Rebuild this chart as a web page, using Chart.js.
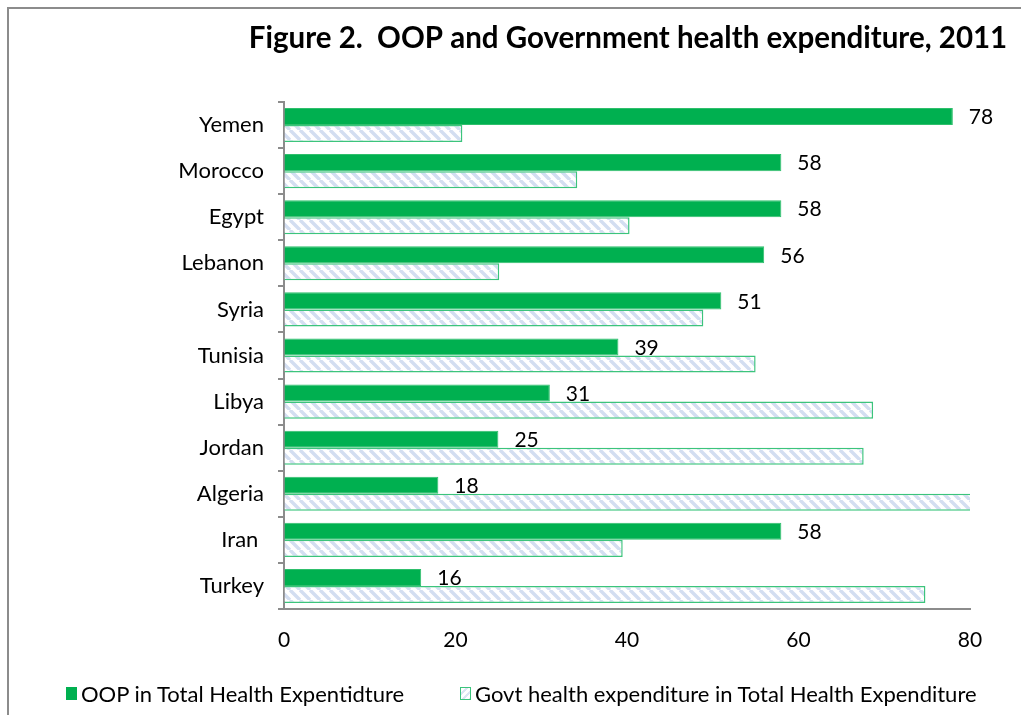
<!DOCTYPE html>
<html>
<head>
<meta charset="utf-8">
<script src="https://cdn.jsdelivr.net/npm/chart.js@4.4.1/dist/chart.umd.min.js"></script>
<style>
  html, body { margin: 0; padding: 0; background: #fff; overflow: hidden; }
  #frame { position: absolute; left: 7px; top: 7px; width: 1040px; height: 740px;
           border: 2px solid #8c8c8c; box-sizing: border-box; }
  #wrap { position: absolute; left: 0; top: 0; width: 1021px; height: 715px; }
  #legend { position: absolute; top: 680px; left: 0; width: 1021px; height: 26px;
            font-family: Lato, "Noto Sans", sans-serif; font-size: 22px; color: #000; }
  .item { position: absolute; top: 0; display: flex; align-items: center; height: 26px; white-space: nowrap; }
  .sw { display: inline-block; width: 11px; height: 13px; margin-right: 4px; box-sizing: border-box; }
  .sw.oop { background: #00b050; }
  .sw.govt { border: 1px solid #3cc47c;
             background: repeating-linear-gradient(135deg, #fff 0 3px, #dbe4f3 3px 5px); }
</style>
</head>
<body>
<div id="frame"></div>
<div id="wrap"><canvas id="c" width="1021" height="715"></canvas></div>
<div id="legend">
  <div class="item" style="left:66px"><span class="sw oop"></span>OOP in Total Health Expentidture</div>
  <div class="item" style="left:460px"><span class="sw govt"></span>Govt health expenditure in Total Health Expenditure</div>
</div>
<script>
// Share of total health expenditure (%), 2011
const countries = ['Yemen', 'Morocco', 'Egypt', 'Lebanon', 'Syria', 'Tunisia', 'Libya', 'Jordan', 'Algeria', 'Iran ', 'Turkey'];
const oopShare  = [78, 58, 58, 56, 51, 39, 31, 25, 18, 58, 16];
const govtShare = [20.8, 34.2, 40.3, 25.1, 48.9, 55.0, 68.7, 67.6, 82, 39.5, 74.8];
const xTicks    = [0, 20, 40, 60, 80];

const titleText = 'Figure 2.  OOP and Government health expenditure, 2011';
const FONT = 'Lato, "Noto Sans", sans-serif';

// Light blue diagonal hatch for the government series
function makeHatch() {
  const s = 10;
  const tile = document.createElement('canvas');
  tile.width = s; tile.height = s;
  const g = tile.getContext('2d');
  g.fillStyle = '#ffffff';
  g.fillRect(0, 0, s, s);
  g.strokeStyle = '#d3def1';
  g.lineWidth = 3.4;
  g.beginPath();
  for (const k of [-s, 0, s]) { g.moveTo(k, 0); g.lineTo(k + s, s); }
  g.stroke();
  return g.createPattern(tile, 'repeat');
}

const titlePlugin = {
  id: 'figureTitle',
  afterDraw(chart) {
    const ctx = chart.ctx;
    ctx.save();
    ctx.font = 'bold 29.5px ' + FONT;
    ctx.fillStyle = '#000';
    ctx.textAlign = 'center';
    ctx.textBaseline = 'middle';
    ctx.fillText(titleText, 628, 38);
    ctx.restore();
  }
};

const valueLabels = {
  id: 'valueLabels',
  afterDatasetsDraw(chart) {
    const ctx = chart.ctx;
    const meta = chart.getDatasetMeta(0);
    ctx.save();
    ctx.font = '21px ' + FONT;
    ctx.fillStyle = '#000';
    ctx.textAlign = 'left';
    ctx.textBaseline = 'middle';
    meta.data.forEach((bar, i) => {
      ctx.fillText(String(oopShare[i]), bar.x + 16, bar.y + 1);
    });
    ctx.restore();
  }
};

new Chart(document.getElementById('c'), {
  type: 'bar',
  data: {
    labels: countries,
    datasets: [
      {
        label: 'OOP in Total Health Expentidture',
        data: oopShare,
        backgroundColor: '#00b050',
        borderColor: '#2fbf6c',
        borderWidth: 1
      },
      {
        label: 'Govt health expenditure in Total Health Expenditure',
        data: govtShare,
        backgroundColor: makeHatch(),
        borderColor: '#3cc47c',
        borderWidth: 1.5
      }
    ]
  },
  options: {
    indexAxis: 'y',
    responsive: false,
    animation: false,
    datasets: { bar: { categoryPercentage: 0.74, barPercentage: 1.0 } },
    layout: { padding: { left: 0, right: 51, top: 102, bottom: 0 } },
    plugins: { legend: { display: false }, title: { display: false }, tooltip: { enabled: false } },
    scales: {
      x: {
        min: 0, max: 80,
        afterBuildTicks(scale) { scale.ticks = xTicks.map(v => ({ value: v })); },
        grid: { display: true, drawOnChartArea: false, drawTicks: false },
        border: { display: true, color: '#8c8c8c', width: 2 },
        ticks: { color: '#000', font: { family: FONT, size: 21 }, padding: 19 },
        afterFit(scale) { scale.height = 106; }
      },
      y: {
        grid: { display: true, drawOnChartArea: false, drawTicks: true, tickLength: 6,
                color: '#8c8c8c', lineWidth: 2, offset: true },
        border: { display: true, color: '#8c8c8c', width: 2 },
        ticks: { color: '#000', font: { family: FONT, size: 22 }, padding: 14 },
        afterFit(scale) { scale.width = 284; }
      }
    }
  },
  plugins: [titlePlugin, valueLabels]
});
</script>
</body>
</html>
